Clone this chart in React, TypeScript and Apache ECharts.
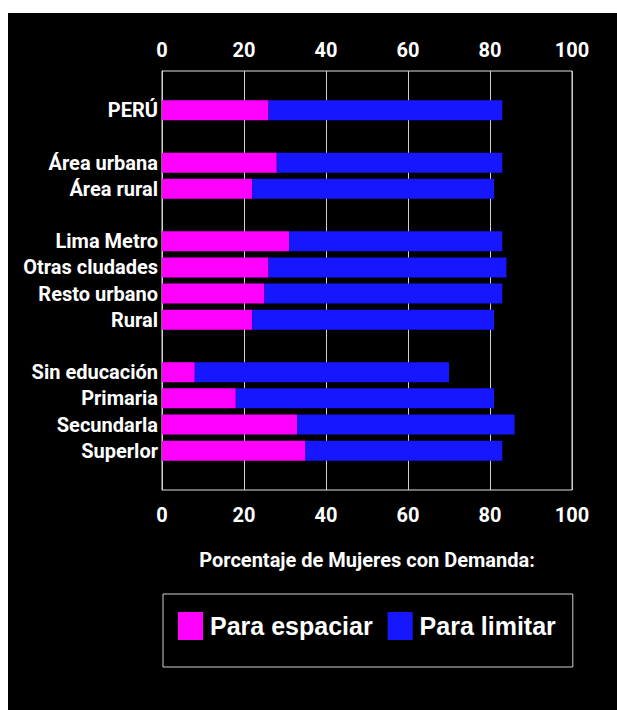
import React, { useEffect, useRef } from 'react';
import * as echarts from 'echarts';

const categories = ['', 'PERÚ', ' ', 'Área urbana', 'Área rural', '  ', 'Lima Metro', 'Otras cludades', 'Resto urbano', 'Rural', '   ', 'Sin educación', 'Primaria', 'Secundarla', 'Superlor', '    '];
const espaciar = ['-', 26, '-', 28, 22, '-', 31, 26, 25, 22, '-', 8, 18, 33, 35, '-'];
const limitar = ['-', 57, '-', 55, 59, '-', 52, 58, 58, 59, '-', 62, 63, 53, 48, '-'];
const xTicks = { min: 0, max: 100, interval: 20 };
const axisTitle = 'Porcentaje de Mujeres con Demanda:';
const seriesNames = ['Para espaciar', 'Para limitar'];

const NARROW = 'Roboto, "Liberation Sans", Arial, sans-serif';
const WIDE = '"Liberation Sans", Arial, sans-serif';

export default function App() {
  const ref = useRef<HTMLDivElement>(null);
  useEffect(() => {
    const chart = echarts.init(ref.current!, null, { renderer: 'svg' });
    const tickLabel = { color: '#fff', fontFamily: NARROW, fontWeight: 'bold', fontSize: 20 };
    chart.setOption({
      animation: false,
      backgroundColor: '#000',
      grid: {
        left: 154, top: 58, width: 410, height: 419,
        outerBoundsMode: 'none', containLabel: false,
        show: true, borderColor: '#e0e0e0', borderWidth: 1, backgroundColor: 'transparent',
      },
      xAxis: [
        {
          type: 'value', position: 'bottom', ...xTicks,
          axisLine: { show: false }, axisTick: { show: false },
          splitLine: { show: true, lineStyle: { color: '#cfcfcf', width: 1 } },
          axisLabel: { ...tickLabel, margin: 15 },
          name: axisTitle, nameLocation: 'middle', nameGap: 60,
          nameTextStyle: { color: '#fff', fontFamily: NARROW, fontWeight: 'bold', fontSize: 20 },
        },
        {
          type: 'value', position: 'top', ...xTicks,
          axisLine: { show: false }, axisTick: { show: false }, splitLine: { show: false },
          axisLabel: { ...tickLabel, margin: 11 },
        },
      ],
      yAxis: {
        type: 'category', inverse: true, data: categories,
        axisLine: { show: true, lineStyle: { color: '#cfcfcf', width: 1 } },
        axisTick: { show: false },
        axisLabel: { ...tickLabel, interval: 0, margin: 4 },
      },
      legend: {
        left: 155, top: 581,
        data: seriesNames,
        orient: 'horizontal',
        padding: [18, 17, 27, 15],
        borderColor: '#cfcfcf', borderWidth: 1,
        itemWidth: 25, itemHeight: 28, itemGap: 15,
        icon: 'rect',
        textStyle: { color: '#fff', fontFamily: WIDE, fontWeight: 'bold', fontSize: 25, padding: [0, 0, 0, 2] },
      },
      series: [
        { name: seriesNames[0], type: 'bar', stack: 'a', barWidth: 20, data: espaciar, itemStyle: { color: '#FF00FF' } },
        { name: seriesNames[1], type: 'bar', stack: 'a', barWidth: 20, data: limitar, itemStyle: { color: '#1616FF' } },
      ],
    });
    return () => chart.dispose();
  }, []);
  return (
    <div style={{ position: 'fixed', left: 0, top: 0, width: 617, height: 710, background: '#fff' }}>
      <div ref={ref} style={{ position: 'absolute', left: 8, top: 13, width: 609, height: 697 }} />
    </div>
  );
}
